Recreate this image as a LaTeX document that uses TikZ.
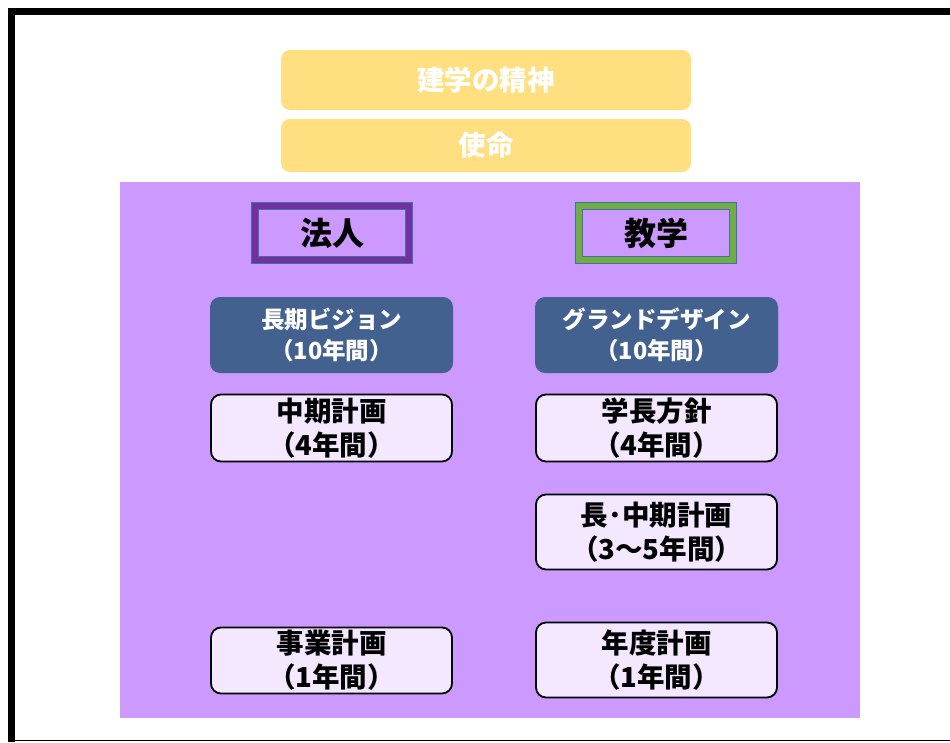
\documentclass[tikz,border=0pt]{standalone}
\usepackage{fontspec}
\setmainfont{Noto Sans CJK JP}
\definecolor{ybox}{HTML}{FFDF80}
\definecolor{pbg}{HTML}{CC99FF}
\definecolor{bbox}{HTML}{43618F}
\definecolor{wbox}{HTML}{F3E8FF}
\definecolor{hpurp}{HTML}{7030A0}
\definecolor{kgreen}{HTML}{70AD47}
\definecolor{edgeblue}{HTML}{41719C}
\begin{document}
\begin{tikzpicture}[x=1pt,y=-1pt,
  yellowbox/.style={fill=ybox,rounded corners=9pt,minimum width=410pt,inner sep=0pt,text=white,font=\bfseries\fontsize{27.5}{30}\selectfont},
  bluebox/.style={fill=bbox,rounded corners=10pt,minimum width=243pt,minimum height=76pt,inner sep=0pt,align=center,text=white,font=\bfseries\fontsize{23.5}{31}\selectfont},
  whitebox/.style={fill=wbox,draw=black,line width=1.8pt,rounded corners=10pt,minimum width=241pt,inner sep=0pt,align=center,text=black,font=\bfseries\fontsize{27.5}{34}\selectfont},
  headbox/.style={minimum width=154pt,minimum height=54pt,inner sep=0pt,font=\bfseries\fontsize{32}{34}\selectfont}
]
\useasboundingbox (0,0) rectangle (950,742);
\fill[white] (0,0) rectangle (950,742);
% frame
\draw[line width=7pt] (11.5,742) -- (11.5,11.5) -- (950,11.5);
\draw[line width=1.5pt] (8,740.5) -- (950,740.5);
% yellow boxes
\node[yellowbox,minimum height=60pt] (spirit) at (486,80) {建学の精神};
\node[yellowbox,minimum height=53pt] (mission) at (486,145.5) {使命};
% purple background
\fill[pbg] (120,182) rectangle (860,718);
% heading boxes
\node[headbox,draw=edgeblue,line width=8pt] (hojin) at (332,233) {};
\node[headbox,draw=hpurp,line width=6pt] at (hojin.center) {法人};
\node[headbox,draw=edgeblue,line width=8pt] (kyogaku) at (656,233) {};
\node[headbox,draw=kgreen,line width=6pt] at (kyogaku.center) {教学};
% left column
\node[bluebox] (vision) at (331.5,335) {長期ビジョン\\（10年間）};
\node[whitebox,minimum height=67pt] (mid) at (331.5,428) {中期計画\\（4年間）};
\node[whitebox,minimum height=66pt] (biz) at (331.5,660.5) {事業計画\\（1年間）};
% right column
\node[bluebox] (grand) at (656.5,335) {グランドデザイン\\（10年間）};
\node[whitebox,minimum height=67pt] (policy) at (656.5,428) {学長方針\\（4年間）};
\node[whitebox,minimum height=75pt] (longmid) at (656.5,532) {長･中期計画\\（3～5年間）};
\node[whitebox,minimum height=75pt] (annual) at (656.5,660) {年度計画\\（1年間）};
\end{tikzpicture}
\end{document}
